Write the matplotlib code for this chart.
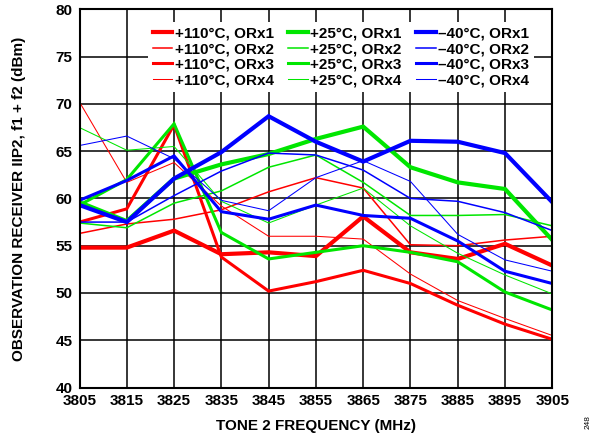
import matplotlib
matplotlib.use('Agg')
import matplotlib.pyplot as plt

plt.rcParams['font.family'] = ['Liberation Sans', 'DejaVu Sans']
plt.rcParams['font.weight'] = 'bold'

freq = [3805, 3815, 3825, 3835, 3845, 3855, 3865, 3875, 3885, 3895, 3905]

# +110C
hot_orx1 = [54.8, 54.8, 56.6, 54.1, 54.3, 53.9, 58.1, 54.3, 53.6, 55.2, 52.9]
hot_orx2 = [56.3, 57.3, 57.8, 58.8, 60.7, 62.2, 61.1, 55.1, 55.0, 55.6, 56.0]
hot_orx3 = [57.5, 58.9, 67.8, 53.8, 50.2, 51.2, 52.4, 51.0, 48.7, 46.7, 45.1]
hot_orx4 = [70.2, 61.7, 63.8, 59.2, 56.0, 56.0, 55.7, 52.0, 49.2, 47.3, 45.5]
# +25C
room_orx1 = [59.6, 57.6, 62.1, 63.6, 64.7, 66.3, 67.6, 63.3, 61.7, 61.0, 55.6]
room_orx2 = [57.4, 56.9, 59.5, 60.8, 63.3, 64.6, 61.7, 58.2, 58.2, 58.3, 57.1]
room_orx3 = [59.3, 62.0, 67.9, 56.4, 53.6, 54.3, 55.0, 54.3, 53.3, 50.1, 48.2]
room_orx4 = [67.5, 65.1, 65.5, 59.7, 57.4, 59.3, 61.1, 57.1, 54.2, 51.9, 49.9]
# -40C
cold_orx1 = [59.3, 57.5, 62.1, 64.9, 68.7, 66.0, 63.9, 66.1, 66.0, 64.8, 59.6]
cold_orx2 = [57.5, 57.5, 60.3, 62.9, 64.8, 64.6, 63.0, 60.0, 59.7, 58.5, 56.6]
cold_orx3 = [59.8, 61.9, 64.5, 58.6, 57.8, 59.3, 58.2, 57.9, 55.5, 52.3, 51.0]
cold_orx4 = [65.6, 66.6, 64.2, 59.8, 58.7, 62.2, 64.0, 61.8, 56.2, 53.5, 52.3]

temps = ['+110°C', '+25°C', '–40°C']
colors = ['#ff0000', '#00e600', '#0000ff']
series = [[hot_orx1, hot_orx2, hot_orx3, hot_orx4],
          [room_orx1, room_orx2, room_orx3, room_orx4],
          [cold_orx1, cold_orx2, cold_orx3, cold_orx4]]
widths = [3.0, 1.1, 2.2, 0.75]

fig = plt.figure(figsize=(5.95, 4.4), dpi=100)
ax = fig.add_axes([79.5/595, 1-387.5/440, (552.3-79.5)/595, (387.5-9.4)/440])

for t, c, grp in zip(temps, colors, series):
    for k, vals in enumerate(grp):
        ax.plot(freq, vals, color=c, lw=widths[k], label='%s, ORx%d' % (t, k+1),
                solid_joinstyle='miter')

ax.set_xlim(3805, 3905)
ax.set_ylim(40, 80)
ax.set_xticks(freq)
ax.set_yticks(range(40, 81, 5))
ax.grid(True, color='black', lw=1.1)
ax.set_axisbelow(True)
for s in ax.spines.values():
    s.set_linewidth(1.5)
ax.tick_params(length=0, labelsize=11, pad=5)
for lab in ax.get_xticklabels() + ax.get_yticklabels():
    lab.set_fontweight('bold')

ax.set_xlabel('TONE 2 FREQUENCY (MHz)', fontsize=11, fontweight='bold')
ax.set_ylabel('OBSERVATION RECEIVER IIP2, f1 + f2 (dBm)', fontsize=11,
              fontweight='bold')
ax.xaxis.set_label_coords(0.5, (387.5-419)/378.1)
ax.yaxis.set_label_coords((26-79.5)/472.8, 0.5)

leg = ax.legend(ncol=3, loc='upper left', bbox_to_anchor=(148/595, 1-22/440),
                bbox_transform=fig.transFigure, fontsize=11, frameon=True,
                fancybox=False, edgecolor='none', framealpha=1,
                handlelength=1.3, handletextpad=0.15, columnspacing=0.95,
                labelspacing=0.1, borderpad=0.3, borderaxespad=0)
for tx in leg.get_texts():
    tx.set_fontweight('bold')

fig.text(588/595, 1-422/440, '248', rotation=90, fontsize=6, fontweight='normal',
         ha='center', va='center')

fig.savefig('out.png', dpi=100)
